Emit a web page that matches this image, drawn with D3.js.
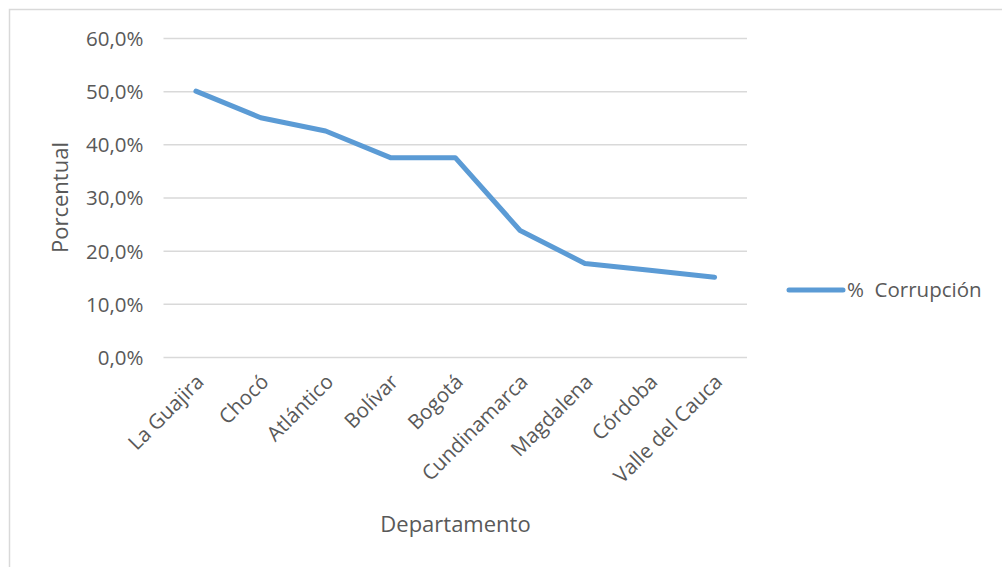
<!DOCTYPE html>
<html>
<head>
<meta charset="utf-8">
<script src="https://cdn.jsdelivr.net/npm/d3@7"></script>
<style>
  body { margin: 0; background: #fff; }
  text { font-family: "Open Sans", sans-serif; fill: #595959; }
</style>
</head>
<body>
<div id="chart"></div>
<script>
// data
var departamentos = ["La Guajira", "Chocó", "Atlántico", "Bolívar", "Bogotá",
                     "Cundinamarca", "Magdalena", "Córdoba", "Valle del Cauca"];
var corrupcion = [0.50, 0.45, 0.425, 0.375, 0.375, 0.238, 0.176, 0.163, 0.15];
var yTicks = [0, 0.1, 0.2, 0.3, 0.4, 0.5, 0.6];
var serieNombre = "%  Corrupción";

var width = 1002, height = 567;
var plotLeft = 163.5, plotRight = 747, plotTop = 38, plotBottom = 357;

var svg = d3.select("#chart").append("svg")
    .attr("width", width).attr("height", height);

// chart frame
svg.append("rect")
    .attr("x", 9.5).attr("y", 9.5)
    .attr("width", width).attr("height", height)
    .attr("fill", "none").attr("stroke", "#d9d9d9").attr("stroke-width", 1.5);

var x = d3.scaleBand().domain(departamentos).range([plotLeft, plotRight]);
var y = d3.scaleLinear().domain([0, 0.6]).range([plotBottom, plotTop]);

var fmt = function(d) { return d3.format(".1f")(d * 100).replace(".", ",") + "%"; };

// gridlines + y labels
var yAxis = svg.append("g")
    .attr("transform", "translate(" + plotLeft + ",0)")
    .call(d3.axisLeft(y).tickValues(yTicks).tickFormat(fmt)
        .tickSize(-(plotRight - plotLeft)).tickPadding(20));
yAxis.select(".domain").remove();
yAxis.selectAll("line").attr("stroke", "#d9d9d9").attr("stroke-width", 1.5);
yAxis.selectAll("text")
    .attr("font-size", 20.5).attr("font-family", "Open Sans")
    .attr("fill", "#595959").attr("dy", "0.36em");

// x labels, rotated
var xAxis = svg.append("g");
xAxis.selectAll("text")
    .data(departamentos)
    .enter().append("text")
    .attr("transform", function(d) {
      return "translate(" + (x(d) + x.bandwidth() / 2 + 3) + "," + 377 + ") rotate(-45)";
    })
    .attr("text-anchor", "end")
    .attr("dy", "0.42em")
    .attr("font-size", 20.5)
    .text(function(d) { return d; });

// the line
var line = d3.line()
    .x(function(d, i) { return x(departamentos[i]) + x.bandwidth() / 2; })
    .y(function(d) { return y(d); });

svg.append("path")
    .datum(corrupcion)
    .attr("d", line)
    .attr("fill", "none")
    .attr("stroke", "#5b9bd5")
    .attr("stroke-width", 5)
    .attr("stroke-linejoin", "round")
    .attr("stroke-linecap", "round");

// axis titles
svg.append("text")
    .attr("transform", "translate(68," + ((plotTop + plotBottom) / 2) + ") rotate(-90)")
    .attr("text-anchor", "middle")
    .attr("font-size", 22)
    .text("Porcentual");

svg.append("text")
    .attr("x", 455.5).attr("y", 532)
    .attr("text-anchor", "middle")
    .attr("font-size", 22)
    .text("Departamento");

// legend
var legend = svg.append("g").attr("transform", "translate(787,290)");
legend.append("line")
    .attr("x1", 2).attr("x2", 56)
    .attr("stroke", "#5b9bd5").attr("stroke-width", 5)
    .attr("stroke-linecap", "round");
legend.append("text")
    .attr("x", 60).attr("dy", "0.36em")
    .attr("font-size", 20.5)
    .attr("xml:space", "preserve")
    .style("white-space", "pre")
    .text(serieNombre);
</script>
</body>
</html>
